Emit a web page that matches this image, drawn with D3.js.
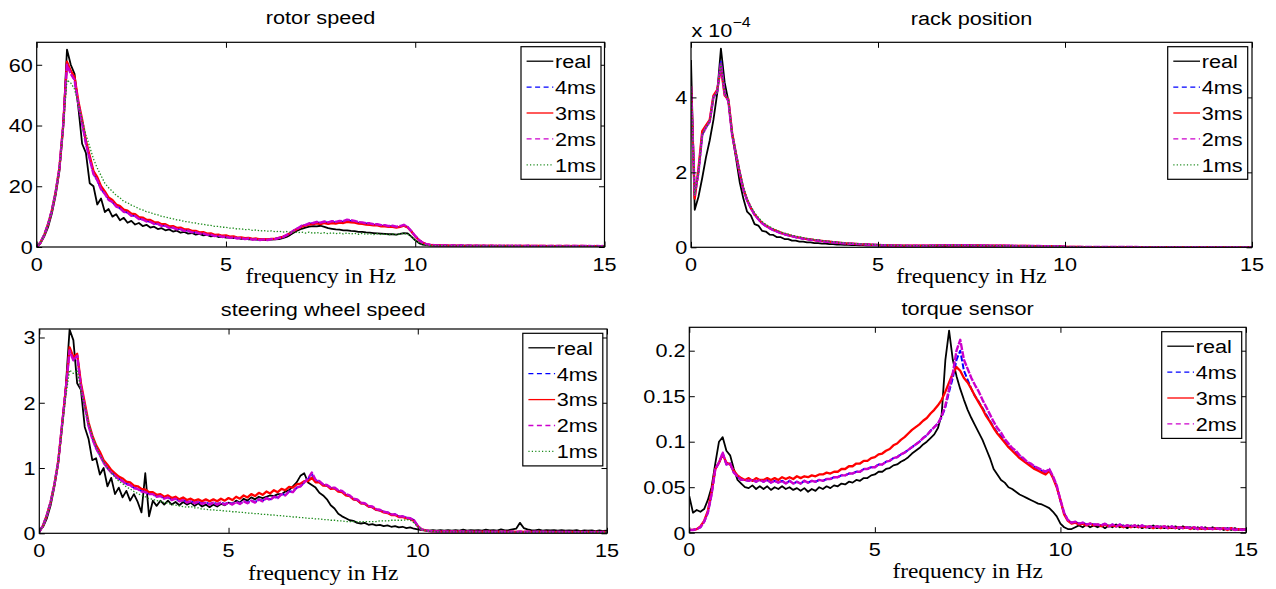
<!DOCTYPE html>
<html><head><meta charset="utf-8">
<script src="https://cdn.jsdelivr.net/npm/d3@7"></script>
<style>body{margin:0;background:#fff;overflow:hidden}</style>
</head><body>
<svg id="c" width="1276" height="589"></svg>
<script>
// ---------- DATA ----------
// frequency grid in Hz (0 .. 15, step 0.1)
const freq = d3.range(151).map(i => i / 10);
const xTickValues = [0, 5, 10, 15];
const xTickLabels = ["0", "5", "10", "15"];
const seriesNames = ["real", "4ms", "3ms", "2ms", "1ms"];

// rotor speed
const rotorReal = [0,1.2,3.5,6.5,11,17,25,40,65,60,
57,46,34,31,21,20,14,16,11.5,12.5,
10,10.8,8.8,9.6,8.0,8.6,7.4,7.9,6.9,7.3,
6.4,6.7,5.9,6.2,5.5,5.8,5.1,5.4,4.7,5.0,
4.4,4.6,4.1,4.3,3.8,4.0,3.5,3.7,3.3,3.4,
3.1,3.2,2.9,3.0,2.7,2.8,2.5,2.6,2.4,2.5,
2.3,2.4,2.4,2.5,2.6,2.9,3.3,4.0,4.8,5.5,
6.0,6.4,6.7,6.9,6.8,7.0,6.6,6.2,6.0,5.8,
5.7,5.5,5.5,5.3,5.2,5.0,5.0,4.8,4.7,4.6,
4.5,4.4,4.3,4.2,4.2,4.1,4.3,4.6,4.5,3.4,
2.2,1.3,0.8,0.6,0.5,0.45,0.5,0.4,0.45,0.4,
0.45,0.4,0.42,0.38,0.42,0.38,0.4,0.36,0.4,0.36,
0.38,0.35,0.38,0.34,0.37,0.34,0.36,0.33,0.36,0.33,
0.35,0.32,0.35,0.32,0.34,0.31,0.34,0.31,0.33,0.3,
0.33,0.3,0.32,0.3,0.32,0.29,0.31,0.29,0.31,0.28,0.3];
const rotor4ms = [0,1.5,4,7.5,12,18,26,40,60.5,57.5,
55,47.5,41,34.5,29,24.5,22,19.3,17.5,15.8,
14.8,13.5,12.8,11.8,11.3,10.5,10.2,9.4,9.1,8.6,
8.3,7.8,7.6,7.1,7.0,6.5,6.4,6.0,5.9,5.5,
5.4,5.0,4.9,4.6,4.5,4.2,4.1,3.8,3.8,3.5,
3.5,3.2,3.2,3.0,3.0,2.8,2.8,2.6,2.6,2.4,
2.5,2.4,2.6,2.7,3.0,3.3,3.9,4.6,5.5,6.1,
6.9,7.2,7.7,7.8,8.1,7.9,8.2,8.0,8.3,8.1,
8.4,8.3,8.7,8.6,8.4,8.0,7.9,7.7,7.6,7.4,
7.3,7.1,7.0,6.8,6.8,6.6,6.7,7.1,6.5,5.1,
3.6,2.3,1.4,0.9,0.7,0.6,0.55,0.5,0.5,0.45,
0.48,0.42,0.46,0.4,0.45,0.39,0.44,0.38,0.43,0.37,
0.42,0.37,0.41,0.36,0.4,0.35,0.39,0.35,0.39,0.34,
0.38,0.34,0.37,0.33,0.37,0.33,0.36,0.32,0.35,0.32,
0.35,0.31,0.34,0.31,0.34,0.3,0.33,0.3,0.33,0.3,0.32];
const rotor3ms = [0,1.5,4,7.5,12,18,26,40,61,58,
56,48,42,35,30,25,23,20,18.3,16.3,
15.5,14.0,13.5,12.3,12.0,11.0,10.8,9.8,9.7,9.0,
8.9,8.2,8.1,7.5,7.5,6.8,6.9,6.3,6.4,5.8,
5.8,5.3,5.3,4.8,4.9,4.4,4.5,4.0,4.1,3.7,
3.8,3.4,3.5,3.1,3.2,2.9,3.0,2.7,2.8,2.5,
2.6,2.5,2.7,2.7,3.0,3.3,3.9,4.6,5.4,6.0,
6.7,7.0,7.4,7.5,7.8,7.5,7.9,7.6,7.9,7.7,
8.0,7.9,8.3,8.1,8.0,7.7,7.6,7.4,7.3,7.1,
7.1,6.8,6.8,6.6,6.6,6.4,6.6,7.0,6.4,5.1,
3.5,2.2,1.4,0.9,0.7,0.6,0.55,0.5,0.5,0.45,
0.47,0.42,0.45,0.4,0.44,0.39,0.43,0.38,0.42,0.37,
0.41,0.36,0.4,0.36,0.39,0.35,0.38,0.34,0.38,0.34,
0.37,0.33,0.36,0.33,0.36,0.32,0.35,0.32,0.34,0.31,
0.34,0.31,0.33,0.3,0.33,0.3,0.32,0.3,0.32,0.29,0.31];
const rotor2ms = [0,1.5,4,7.5,12,18,26,40,60,57,
55,47,41,34,29,24,22,19,17.5,15.5,
14.8,13.3,12.8,11.6,11.3,10.3,10.2,9.2,9.1,8.4,
8.3,7.6,7.6,6.9,7.0,6.3,6.4,5.8,5.9,5.3,
5.4,4.8,4.9,4.4,4.5,4.0,4.1,3.6,3.8,3.3,
3.5,3.0,3.2,2.8,3.0,2.6,2.8,2.4,2.6,2.3,
2.5,2.3,2.6,2.6,3.0,3.2,3.9,4.6,5.5,6.2,
7.0,7.3,7.8,7.9,8.3,8.0,8.4,8.1,8.5,8.3,
8.6,8.5,9.0,8.8,8.6,8.2,8.1,7.8,7.8,7.5,
7.5,7.2,7.2,6.9,7.0,6.7,6.9,7.3,6.6,5.2,
3.6,2.3,1.4,0.9,0.7,0.6,0.55,0.5,0.55,0.45,
0.5,0.42,0.48,0.4,0.46,0.4,0.45,0.38,0.44,0.38,
0.43,0.37,0.42,0.36,0.41,0.36,0.4,0.35,0.4,0.35,
0.39,0.34,0.38,0.34,0.38,0.33,0.37,0.33,0.36,0.32,
0.36,0.32,0.35,0.31,0.35,0.31,0.34,0.3,0.34,0.3,0.33];
const rotor1ms = [0,1.5,4,7.5,12,18,26,39,55,54,
52,47,42,37,33,29,26,23.5,21,19.5,
18.3,17,16.2,15,14.6,13.8,13.3,12.6,12.2,11.6,
11.4,10.8,10.6,10.1,9.9,9.5,9.3,8.9,8.8,8.4,
8.3,8.0,7.9,7.6,7.5,7.2,7.1,6.8,6.8,6.5,
6.5,6.2,6.2,5.9,6.0,5.7,5.8,5.5,5.6,5.3,
5.4,5.2,5.3,5.0,5.2,4.9,5.1,4.8,5.0,4.7,
4.9,4.6,4.9,4.5,4.8,4.5,4.7,4.4,4.7,4.4,
4.6,4.3,4.6,4.3,4.5,4.2,4.5,4.2,4.4,4.1,
4.4,4.1,4.3,4.0,4.3,4.0,4.3,4.5,4.2,3.3,
2.2,1.3,0.8,0.6,0.5,0.45,0.45,0.4,0.42,0.38,
0.4,0.36,0.39,0.35,0.38,0.34,0.37,0.34,0.36,0.33,
0.36,0.32,0.35,0.32,0.34,0.31,0.34,0.31,0.33,0.3,
0.33,0.3,0.32,0.3,0.32,0.29,0.31,0.29,0.31,0.28,
0.3,0.28,0.3,0.27,0.3,0.27,0.29,0.27,0.29,0.26,0.28];

// rack position (in units of 1e-4)
const rackReal = [5.0,1.0,1.35,1.85,2.4,2.85,3.4,4.1,5.3,4.4,
3.9,3.0,2.4,1.75,1.3,0.95,0.85,0.62,0.58,0.44,
0.42,0.34,0.33,0.27,0.27,0.22,0.22,0.18,0.18,0.15,
0.15,0.13,0.13,0.11,0.11,0.1,0.1,0.085,0.085,0.075,
0.075,0.068,0.065,0.06,0.058,0.054,0.052,0.048,0.047,0.044,
0.043,0.04,0.04,0.038,0.037,0.035,0.035,0.033,0.033,0.032,
0.032,0.031,0.031,0.031,0.032,0.032,0.033,0.034,0.035,0.036,
0.036,0.037,0.037,0.036,0.036,0.035,0.034,0.033,0.032,0.031,
0.03,0.029,0.028,0.027,0.026,0.025,0.024,0.023,0.022,0.021,
0.02,0.02,0.019,0.018,0.018,0.017,0.017,0.017,0.016,0.014,
0.012,0.01,0.009,0.009,0.008,0.008,0.008,0.008,0.007,0.007,
0.007,0.007,0.007,0.007,0.007,0.007,0.007,0.007,0.007,0.007,
0.006,0.006,0.006,0.006,0.006,0.006,0.006,0.006,0.006,0.006,
0.006,0.006,0.006,0.006,0.006,0.005,0.005,0.005,0.005,0.005,
0.005,0.005,0.005,0.005,0.005,0.005,0.005,0.005,0.005,0.005,0.005];
const rack4ms = [4.3,1.4,2.0,3.0,3.2,3.35,4.0,4.15,4.95,4.1,
3.9,3.05,2.5,2.0,1.55,1.25,1.05,0.87,0.75,0.64,
0.57,0.51,0.46,0.42,0.38,0.35,0.32,0.3,0.27,0.25,
0.23,0.22,0.2,0.19,0.18,0.16,0.15,0.145,0.135,0.125,
0.115,0.108,0.1,0.095,0.09,0.085,0.08,0.075,0.07,0.066,
0.062,0.058,0.055,0.052,0.05,0.048,0.046,0.044,0.043,0.042,
0.041,0.041,0.042,0.043,0.045,0.047,0.05,0.052,0.054,0.055,
0.056,0.056,0.055,0.054,0.053,0.052,0.05,0.049,0.048,0.046,
0.045,0.044,0.043,0.042,0.041,0.04,0.039,0.038,0.037,0.036,
0.035,0.034,0.033,0.033,0.032,0.031,0.031,0.032,0.03,0.025,
0.015,0.01,0.008,0.008,0.008,0.007,0.007,0.007,0.007,0.007,
0.007,0.007,0.007,0.007,0.007,0.007,0.007,0.007,0.007,0.007,
0.006,0.006,0.006,0.006,0.006,0.006,0.006,0.006,0.006,0.006,
0.006,0.006,0.006,0.006,0.006,0.005,0.005,0.005,0.005,0.005,
0.005,0.005,0.005,0.005,0.005,0.005,0.005,0.005,0.005,0.005,0.005];
const rack3ms = [4.3,1.3,2.1,3.1,3.25,3.4,4.05,4.2,4.8,4.05,
3.95,3.05,2.5,2.0,1.55,1.27,1.05,0.88,0.76,0.65,
0.58,0.52,0.47,0.43,0.39,0.35,0.33,0.3,0.28,0.26,
0.24,0.22,0.21,0.19,0.18,0.17,0.16,0.15,0.14,0.13,
0.12,0.11,0.1,0.096,0.09,0.086,0.08,0.076,0.071,0.067,
0.063,0.059,0.056,0.053,0.05,0.048,0.046,0.045,0.043,0.042,
0.041,0.041,0.042,0.043,0.045,0.047,0.049,0.051,0.053,0.054,
0.055,0.055,0.054,0.053,0.052,0.051,0.05,0.048,0.047,0.046,
0.045,0.044,0.043,0.042,0.041,0.04,0.039,0.038,0.037,0.036,
0.035,0.034,0.033,0.033,0.032,0.031,0.031,0.031,0.029,0.024,
0.015,0.01,0.008,0.008,0.008,0.007,0.007,0.007,0.007,0.007,
0.007,0.007,0.007,0.007,0.007,0.007,0.007,0.007,0.007,0.007,
0.006,0.006,0.006,0.006,0.006,0.006,0.006,0.006,0.006,0.006,
0.006,0.006,0.006,0.006,0.006,0.005,0.005,0.005,0.005,0.005,
0.005,0.005,0.005,0.005,0.005,0.005,0.005,0.005,0.005,0.005,0.005];
const rack2ms = [4.3,1.4,2.0,3.0,3.2,3.35,4.0,4.15,4.9,4.1,
3.9,3.0,2.5,2.0,1.55,1.25,1.05,0.87,0.75,0.64,
0.57,0.51,0.46,0.42,0.38,0.35,0.32,0.3,0.27,0.25,
0.23,0.22,0.2,0.19,0.18,0.16,0.15,0.145,0.135,0.125,
0.115,0.108,0.1,0.095,0.09,0.085,0.08,0.075,0.07,0.066,
0.062,0.058,0.055,0.052,0.05,0.048,0.046,0.044,0.043,0.042,
0.041,0.041,0.042,0.043,0.045,0.047,0.05,0.052,0.054,0.055,
0.056,0.056,0.055,0.054,0.053,0.052,0.05,0.049,0.048,0.046,
0.045,0.044,0.043,0.042,0.041,0.04,0.039,0.038,0.037,0.036,
0.035,0.034,0.033,0.033,0.032,0.031,0.031,0.032,0.03,0.025,
0.015,0.01,0.008,0.008,0.008,0.007,0.007,0.007,0.007,0.007,
0.007,0.007,0.007,0.007,0.007,0.007,0.007,0.007,0.007,0.007,
0.006,0.006,0.006,0.006,0.006,0.006,0.006,0.006,0.006,0.006,
0.006,0.006,0.006,0.006,0.006,0.005,0.005,0.005,0.005,0.005,
0.005,0.005,0.005,0.005,0.005,0.005,0.005,0.005,0.005,0.005,0.005];
const rack1ms = [4.3,1.4,2.0,3.0,3.2,3.35,4.0,4.15,4.9,4.1,
3.95,3.05,2.55,2.05,1.62,1.3,1.1,0.92,0.8,0.69,
0.61,0.55,0.5,0.45,0.41,0.38,0.35,0.32,0.3,0.28,
0.26,0.24,0.22,0.21,0.2,0.18,0.17,0.16,0.15,0.14,
0.13,0.12,0.11,0.105,0.1,0.094,0.088,0.083,0.078,0.073,
0.069,0.065,0.061,0.058,0.055,0.052,0.05,0.048,0.046,0.045,
0.044,0.043,0.044,0.045,0.046,0.048,0.05,0.052,0.053,0.054,
0.055,0.055,0.054,0.053,0.052,0.051,0.05,0.049,0.048,0.046,
0.045,0.044,0.043,0.042,0.041,0.04,0.039,0.038,0.037,0.036,
0.035,0.034,0.033,0.033,0.032,0.031,0.031,0.032,0.03,0.025,
0.015,0.01,0.008,0.008,0.008,0.007,0.007,0.007,0.007,0.007,
0.007,0.007,0.007,0.007,0.007,0.007,0.007,0.007,0.007,0.007,
0.006,0.006,0.006,0.006,0.006,0.006,0.006,0.006,0.006,0.006,
0.006,0.006,0.006,0.006,0.006,0.005,0.005,0.005,0.005,0.005,
0.005,0.005,0.005,0.005,0.005,0.005,0.005,0.005,0.005,0.005,0.005];

// steering wheel speed
const steerReal = [0.05,0.1,0.23,0.43,0.72,1.07,1.64,2.25,3.12,2.96,
2.3,2.2,1.63,1.45,1.12,1.15,0.9,1.0,0.72,0.85,
0.6,0.7,0.55,0.65,0.5,0.6,0.48,0.32,0.92,0.26,
0.5,0.42,0.5,0.44,0.5,0.44,0.48,0.43,0.48,0.44,
0.47,0.42,0.46,0.41,0.44,0.4,0.44,0.41,0.45,0.43,
0.47,0.45,0.5,0.47,0.53,0.5,0.55,0.52,0.56,0.54,
0.56,0.58,0.57,0.6,0.6,0.64,0.66,0.72,0.78,0.88,
0.92,0.78,0.74,0.7,0.62,0.58,0.52,0.43,0.38,0.3,
0.26,0.23,0.2,0.19,0.16,0.15,0.16,0.13,0.14,0.12,
0.13,0.11,0.12,0.1,0.11,0.09,0.1,0.08,0.09,0.07,
0.06,0.05,0.045,0.04,0.05,0.04,0.05,0.04,0.05,0.04,
0.05,0.04,0.055,0.04,0.05,0.045,0.05,0.04,0.055,0.045,
0.05,0.04,0.06,0.045,0.05,0.06,0.07,0.16,0.08,0.06,
0.05,0.045,0.055,0.04,0.05,0.045,0.05,0.04,0.05,0.04,
0.045,0.04,0.05,0.035,0.045,0.04,0.045,0.035,0.045,0.035,0.04];
const steer4ms = [0.02,0.12,0.28,0.48,0.75,1.1,1.65,2.2,2.82,2.66,
2.73,2.27,1.96,1.66,1.46,1.31,1.2,1.09,1.0,0.94,
0.88,0.84,0.8,0.76,0.74,0.7,0.68,0.65,0.63,0.61,
0.6,0.57,0.57,0.54,0.55,0.52,0.53,0.5,0.51,0.48,
0.49,0.47,0.48,0.46,0.47,0.45,0.47,0.45,0.47,0.45,
0.47,0.45,0.48,0.46,0.49,0.47,0.5,0.48,0.52,0.5,
0.54,0.52,0.56,0.55,0.6,0.59,0.64,0.64,0.7,0.72,
0.78,0.83,0.9,0.8,0.79,0.74,0.73,0.69,0.69,0.65,
0.64,0.59,0.57,0.52,0.51,0.46,0.45,0.41,0.4,0.36,
0.35,0.33,0.32,0.29,0.29,0.26,0.26,0.24,0.23,0.2,
0.11,0.06,0.045,0.035,0.03,0.028,0.026,0.03,0.025,0.028,
0.024,0.028,0.023,0.027,0.023,0.026,0.022,0.026,0.022,0.025,
0.022,0.025,0.021,0.025,0.021,0.024,0.021,0.024,0.02,0.024,
0.02,0.023,0.02,0.023,0.02,0.022,0.019,0.022,0.019,0.022,
0.019,0.021,0.018,0.021,0.018,0.021,0.018,0.02,0.018,0.02,0.018];
const steer3ms = [0.02,0.12,0.28,0.48,0.75,1.1,1.65,2.2,2.85,2.7,
2.75,2.3,2.0,1.7,1.5,1.35,1.25,1.12,1.05,0.97,
0.92,0.87,0.84,0.79,0.78,0.73,0.72,0.68,0.67,0.63,
0.63,0.59,0.6,0.56,0.58,0.54,0.56,0.52,0.55,0.51,
0.53,0.5,0.52,0.49,0.52,0.49,0.52,0.49,0.53,0.5,
0.54,0.51,0.56,0.53,0.58,0.55,0.6,0.57,0.62,0.59,
0.64,0.61,0.66,0.63,0.68,0.66,0.71,0.7,0.75,0.76,
0.8,0.8,0.85,0.78,0.78,0.73,0.73,0.68,0.69,0.64,
0.63,0.58,0.57,0.52,0.51,0.46,0.45,0.41,0.4,0.36,
0.35,0.32,0.31,0.28,0.28,0.25,0.25,0.23,0.22,0.19,
0.11,0.06,0.045,0.035,0.03,0.028,0.026,0.03,0.025,0.028,
0.024,0.028,0.023,0.027,0.023,0.026,0.022,0.026,0.022,0.025,
0.022,0.025,0.021,0.025,0.021,0.024,0.021,0.024,0.02,0.024,
0.02,0.023,0.02,0.023,0.02,0.022,0.019,0.022,0.019,0.022,
0.019,0.021,0.018,0.021,0.018,0.021,0.018,0.02,0.018,0.02,0.018];
const steer2ms = [0.02,0.12,0.28,0.48,0.75,1.1,1.65,2.2,2.8,2.65,
2.72,2.25,1.95,1.65,1.45,1.3,1.2,1.08,1.0,0.93,
0.88,0.83,0.8,0.75,0.74,0.69,0.68,0.64,0.63,0.6,
0.6,0.56,0.57,0.53,0.55,0.51,0.53,0.49,0.51,0.47,
0.49,0.46,0.48,0.45,0.47,0.44,0.47,0.44,0.47,0.44,
0.47,0.44,0.48,0.45,0.49,0.46,0.5,0.47,0.52,0.49,
0.54,0.51,0.56,0.54,0.6,0.58,0.64,0.63,0.7,0.72,
0.78,0.84,0.93,0.82,0.8,0.75,0.74,0.7,0.7,0.66,
0.65,0.6,0.58,0.53,0.52,0.47,0.46,0.42,0.41,0.37,
0.36,0.33,0.32,0.29,0.29,0.26,0.26,0.24,0.23,0.2,
0.11,0.06,0.045,0.035,0.03,0.028,0.026,0.03,0.025,0.028,
0.024,0.028,0.023,0.027,0.023,0.026,0.022,0.026,0.022,0.025,
0.022,0.025,0.021,0.025,0.021,0.024,0.021,0.024,0.02,0.024,
0.02,0.023,0.02,0.023,0.02,0.022,0.019,0.022,0.019,0.022,
0.019,0.021,0.018,0.021,0.018,0.021,0.018,0.02,0.018,0.02,0.018];
const steer1ms = [0.02,0.12,0.28,0.48,0.75,1.1,1.6,2.1,2.5,2.45,
2.5,2.2,1.95,1.7,1.5,1.35,1.2,1.1,1.0,0.93,
0.86,0.8,0.76,0.71,0.68,0.64,0.61,0.58,0.56,0.53,
0.52,0.5,0.49,0.47,0.46,0.44,0.43,0.42,0.41,0.4,
0.41,0.39,0.39,0.37,0.37,0.36,0.36,0.35,0.35,0.34,
0.34,0.33,0.33,0.32,0.32,0.31,0.31,0.3,0.3,0.29,
0.29,0.28,0.28,0.27,0.27,0.26,0.26,0.25,0.25,0.24,
0.24,0.23,0.23,0.22,0.22,0.21,0.21,0.2,0.2,0.19,
0.19,0.18,0.18,0.18,0.18,0.18,0.18,0.18,0.18,0.18,
0.19,0.19,0.19,0.2,0.2,0.2,0.2,0.21,0.2,0.16,
0.1,0.06,0.04,0.03,0.025,0.024,0.023,0.022,0.022,0.021,
0.021,0.02,0.021,0.02,0.02,0.02,0.02,0.019,0.02,0.019,
0.019,0.019,0.019,0.019,0.019,0.018,0.019,0.018,0.018,0.018,
0.018,0.018,0.018,0.017,0.018,0.017,0.017,0.017,0.017,0.017,
0.017,0.017,0.016,0.017,0.016,0.016,0.016,0.016,0.016,0.016,0.016];

// torque sensor
const torqueReal = [0.04,0.022,0.025,0.023,0.026,0.036,0.05,0.076,0.1,0.105,
0.09,0.085,0.07,0.058,0.054,0.05,0.049,0.052,0.048,0.051,
0.048,0.051,0.047,0.05,0.048,0.051,0.048,0.05,0.047,0.049,
0.046,0.049,0.045,0.048,0.046,0.05,0.048,0.051,0.049,0.052,
0.051,0.054,0.053,0.056,0.055,0.058,0.057,0.06,0.06,0.063,
0.064,0.067,0.067,0.07,0.071,0.074,0.075,0.078,0.08,0.083,
0.087,0.09,0.093,0.097,0.1,0.104,0.108,0.115,0.13,0.19,
0.222,0.19,0.172,0.158,0.146,0.135,0.126,0.118,0.11,0.102,
0.092,0.082,0.07,0.064,0.058,0.055,0.05,0.048,0.045,0.042,
0.04,0.038,0.036,0.034,0.032,0.031,0.029,0.027,0.023,0.018,
0.01,0.006,0.004,0.004,0.006,0.008,0.006,0.009,0.006,0.008,
0.006,0.008,0.005,0.008,0.006,0.009,0.006,0.008,0.005,0.008,
0.006,0.008,0.005,0.007,0.005,0.008,0.005,0.007,0.005,0.007,
0.005,0.007,0.004,0.007,0.005,0.006,0.004,0.006,0.004,0.006,
0.004,0.006,0.004,0.005,0.003,0.005,0.003,0.005,0.003,0.004,0.003];
const torque4ms = [0.003,0.003,0.004,0.006,0.012,0.022,0.042,0.07,0.077,0.087,
0.075,0.076,0.066,0.062,0.058,0.058,0.057,0.058,0.056,0.058,
0.056,0.058,0.055,0.057,0.055,0.057,0.054,0.057,0.054,0.056,
0.054,0.057,0.055,0.057,0.056,0.058,0.057,0.059,0.059,0.061,
0.061,0.063,0.063,0.065,0.065,0.067,0.067,0.07,0.07,0.072,
0.072,0.075,0.075,0.078,0.079,0.082,0.083,0.086,0.088,0.091,
0.094,0.097,0.1,0.104,0.107,0.112,0.116,0.12,0.127,0.138,
0.155,0.17,0.19,0.2,0.178,0.168,0.158,0.15,0.144,0.137,
0.13,0.123,0.116,0.11,0.106,0.1,0.096,0.091,0.088,0.084,
0.081,0.077,0.075,0.072,0.07,0.068,0.066,0.069,0.061,0.051,
0.035,0.021,0.014,0.011,0.012,0.01,0.011,0.009,0.01,0.009,
0.009,0.008,0.01,0.007,0.009,0.007,0.009,0.007,0.008,0.007,
0.008,0.006,0.008,0.006,0.007,0.006,0.007,0.006,0.007,0.005,
0.007,0.005,0.006,0.005,0.006,0.005,0.006,0.004,0.006,0.004,
0.005,0.004,0.005,0.004,0.005,0.004,0.005,0.003,0.004,0.003,0.004];
const torque3ms = [0.003,0.003,0.004,0.007,0.013,0.024,0.045,0.07,0.077,0.086,
0.077,0.075,0.068,0.063,0.06,0.058,0.06,0.057,0.06,0.058,
0.058,0.06,0.058,0.06,0.058,0.061,0.059,0.061,0.059,0.062,
0.06,0.062,0.061,0.063,0.062,0.064,0.064,0.066,0.065,0.067,
0.067,0.07,0.07,0.073,0.073,0.076,0.076,0.079,0.079,0.082,
0.083,0.086,0.087,0.09,0.092,0.096,0.098,0.102,0.105,0.109,
0.113,0.116,0.119,0.123,0.126,0.131,0.135,0.14,0.146,0.155,
0.165,0.175,0.182,0.178,0.17,0.165,0.158,0.15,0.143,0.136,
0.128,0.122,0.115,0.109,0.104,0.099,0.094,0.09,0.086,0.082,
0.079,0.076,0.073,0.07,0.068,0.066,0.064,0.068,0.06,0.05,
0.036,0.02,0.013,0.01,0.011,0.009,0.01,0.008,0.01,0.008,
0.009,0.007,0.009,0.007,0.008,0.007,0.008,0.006,0.008,0.006,
0.008,0.006,0.007,0.006,0.007,0.005,0.007,0.005,0.007,0.005,
0.006,0.005,0.006,0.005,0.006,0.004,0.006,0.004,0.005,0.004,
0.005,0.004,0.005,0.004,0.005,0.003,0.005,0.003,0.004,0.003,0.004];
const torque2ms = [0.003,0.003,0.004,0.006,0.012,0.022,0.042,0.07,0.077,0.088,
0.075,0.076,0.066,0.062,0.058,0.058,0.057,0.058,0.056,0.058,
0.056,0.058,0.055,0.057,0.055,0.057,0.054,0.057,0.054,0.056,
0.054,0.057,0.055,0.057,0.056,0.058,0.057,0.059,0.059,0.061,
0.061,0.063,0.063,0.065,0.065,0.067,0.067,0.07,0.07,0.072,
0.072,0.075,0.075,0.078,0.079,0.082,0.083,0.086,0.088,0.091,
0.094,0.097,0.1,0.104,0.107,0.112,0.116,0.12,0.128,0.14,
0.158,0.175,0.2,0.212,0.19,0.18,0.17,0.162,0.155,0.146,
0.138,0.13,0.122,0.115,0.11,0.103,0.098,0.093,0.09,0.085,
0.082,0.078,0.076,0.073,0.071,0.069,0.067,0.07,0.062,0.052,
0.036,0.022,0.014,0.011,0.012,0.01,0.011,0.009,0.01,0.009,
0.009,0.008,0.01,0.007,0.009,0.007,0.009,0.007,0.008,0.007,
0.008,0.006,0.008,0.006,0.007,0.006,0.007,0.006,0.007,0.005,
0.007,0.005,0.006,0.005,0.006,0.005,0.006,0.004,0.006,0.004,
0.005,0.004,0.005,0.004,0.005,0.004,0.005,0.003,0.004,0.003,0.004];

// ---------- STYLE / LAYOUT ----------
const SANS = "'Liberation Sans', Arial, Helvetica, sans-serif";
const SERIF = "'Liberation Serif', 'Times New Roman', serif";
const SX = 1.14;      // horizontal stretch of the original figure's text
const FS = 19;

const styles = {
  "real": {color: "#000000", dash: null,      w: 1.8, legendDash: null},
  "4ms":  {color: "#0000ff", dash: "6,2",     w: 2.0, legendDash: "5,3.5"},
  "3ms":  {color: "#ff0000", dash: null,      w: 2.3, legendDash: null},
  "2ms":  {color: "#cc00cc", dash: "7,1.2",   w: 2.4, legendDash: "5,3.5"},
  "1ms":  {color: "#1e8c1e", dash: "1.4,1.8", w: 1.3, legendDash: "1.2,2.2"}
};

const panels = [
  {title: "rotor speed", box: [36.7, 604.5, 42.3, 247], ymax: 67.4,
   yTicks: [0, 20, 40, 60], yLabels: ["0", "20", "40", "60"],
   series: [rotorReal, rotor4ms, rotor3ms, rotor2ms, rotor1ms], names: seriesNames,
   legend: [521, 46.7], titleY: 24.3, xlabelY: 282.7},
  {title: "rack position", box: [691, 1252, 42.3, 247.3], ymax: 5.47,
   yTicks: [0, 2, 4], yLabels: ["0", "2", "4"],
   series: [rackReal, rack4ms, rack3ms, rack2ms, rack1ms], names: seriesNames,
   legend: [1167.7, 46.7], titleY: 25, xlabelY: 282.7, multiplier: "\u22124"},
  {title: "steering wheel speed", box: [39.3, 607, 329, 533.3], ymax: 3.13,
   yTicks: [0, 1, 2, 3], yLabels: ["0", "1", "2", "3"],
   series: [steerReal, steer4ms, steer3ms, steer2ms, steer1ms], names: seriesNames,
   legend: [522.8, 333.3], titleY: 315.5, xlabelY: 579.5},
  {title: "torque sensor", box: [689.3, 1246, 327.3, 532.7], ymax: 0.2257,
   yTicks: [0, 0.05, 0.1, 0.15, 0.2], yLabels: ["0", "0.05", "0.1", "0.15", "0.2"],
   series: [torqueReal, torque4ms, torque3ms, torque2ms], names: seriesNames.slice(0, 4),
   legend: [1161.7, 331.7], titleY: 315, xlabelY: 577.5}
];

const svg = d3.select("#c");
svg.append("rect").attr("width", 1276).attr("height", 589).attr("fill", "#fff");

function txt(g, x, y, s, anchor = "start", size = FS, family = SANS) {
  return g.append("text")
    .attr("transform", `translate(${x},${y}) scale(${SX},1)`)
    .attr("text-anchor", anchor)
    .style("font-family", family).style("font-size", size + "px")
    .attr("fill", "#000").text(s);
}

panels.forEach((p, pi) => {
  const [x0, x1, y0, y1] = p.box;
  const x = d3.scaleLinear().domain([0, 15]).range([x0, x1]);
  const y = d3.scaleLinear().domain([0, p.ymax]).range([y1, y0]);
  const g = svg.append("g");
  const tl = 5.5;

  const clipId = "clip" + pi;
  svg.append("clipPath").attr("id", clipId).append("rect")
    .attr("x", x0).attr("y", y0 - 1).attr("width", x1 - x0).attr("height", y1 - y0 + 1);

  // curves
  const line = d3.line().x((d, i) => x(freq[i])).y(d => y(d));
  const cg = g.append("g").attr("clip-path", `url(#${clipId})`);
  p.series.forEach((s, si) => {
    const st = styles[p.names[si]];
    cg.append("path").datum(s).attr("d", line)
      .attr("fill", "none").attr("stroke", st.color).attr("stroke-width", st.w)
      .attr("stroke-linejoin", "round")
      .attr("stroke-dasharray", st.dash);
  });

  // ticks (inward, on all four sides) through d3 axes
  const ax = g.append("g").attr("class", "axes");
  ax.append("g").attr("transform", `translate(0,${y1})`)
    .call(d3.axisBottom(x).tickValues(xTickValues).tickSize(-tl).tickFormat(""));
  ax.append("g").attr("transform", `translate(0,${y0})`)
    .call(d3.axisTop(x).tickValues(xTickValues).tickSize(-tl).tickFormat(""));
  ax.append("g").attr("transform", `translate(${x0},0)`)
    .call(d3.axisLeft(y).tickValues(p.yTicks).tickSize(-tl).tickFormat(""));
  ax.append("g").attr("transform", `translate(${x1},0)`)
    .call(d3.axisRight(y).tickValues(p.yTicks).tickSize(-tl).tickFormat(""));
  ax.selectAll(".domain").remove();
  ax.selectAll(".tick line").attr("stroke", "#000").attr("stroke-width", 1);

  g.append("rect").attr("x", x0).attr("y", y0).attr("width", x1 - x0).attr("height", y1 - y0)
    .attr("fill", "none").attr("stroke", "#000").attr("stroke-width", 1.2);

  // tick labels
  xTickValues.forEach((v, i) => txt(g, x(v), y1 + 23.5, xTickLabels[i], "middle"));
  p.yTicks.forEach((v, i) => txt(g, x0 - 3.8, y(v) + 6.8, p.yLabels[i], "end"));

  // title, xlabel
  txt(g, (x0 + x1) / 2, p.titleY, p.title, "middle");
  txt(g, (x0 + x1) / 2, p.xlabelY, "frequency in Hz", "middle", 20.5, SERIF);

  if (p.multiplier) {
    const t = txt(g, x0 + 0.5, y0 - 5.3, "x 10");
    t.append("tspan").attr("dy", -10.5).style("font-size", "14px").text(p.multiplier);
  }

  // legend
  const [lx, ly] = p.legend;
  const n = p.names.length, lw = 80, pad = 14.5, sp = 25.9;
  const lh = pad * 2 + (n - 1) * sp;
  g.append("rect").attr("x", lx).attr("y", ly).attr("width", lw).attr("height", lh)
    .attr("fill", "#fff").attr("stroke", "#000").attr("stroke-width", 1.2);
  p.names.forEach((nm, i) => {
    const st = styles[nm];
    const cy = ly + pad + i * sp;
    g.append("line").attr("x1", lx + 5.6).attr("x2", lx + 32.3).attr("y1", cy).attr("y2", cy)
      .attr("stroke", st.color).attr("stroke-width", 1.3).attr("stroke-dasharray", st.legendDash);
    txt(g, lx + 34, cy + 6.8, nm, "start");
  });
});
</script>
</body></html>
